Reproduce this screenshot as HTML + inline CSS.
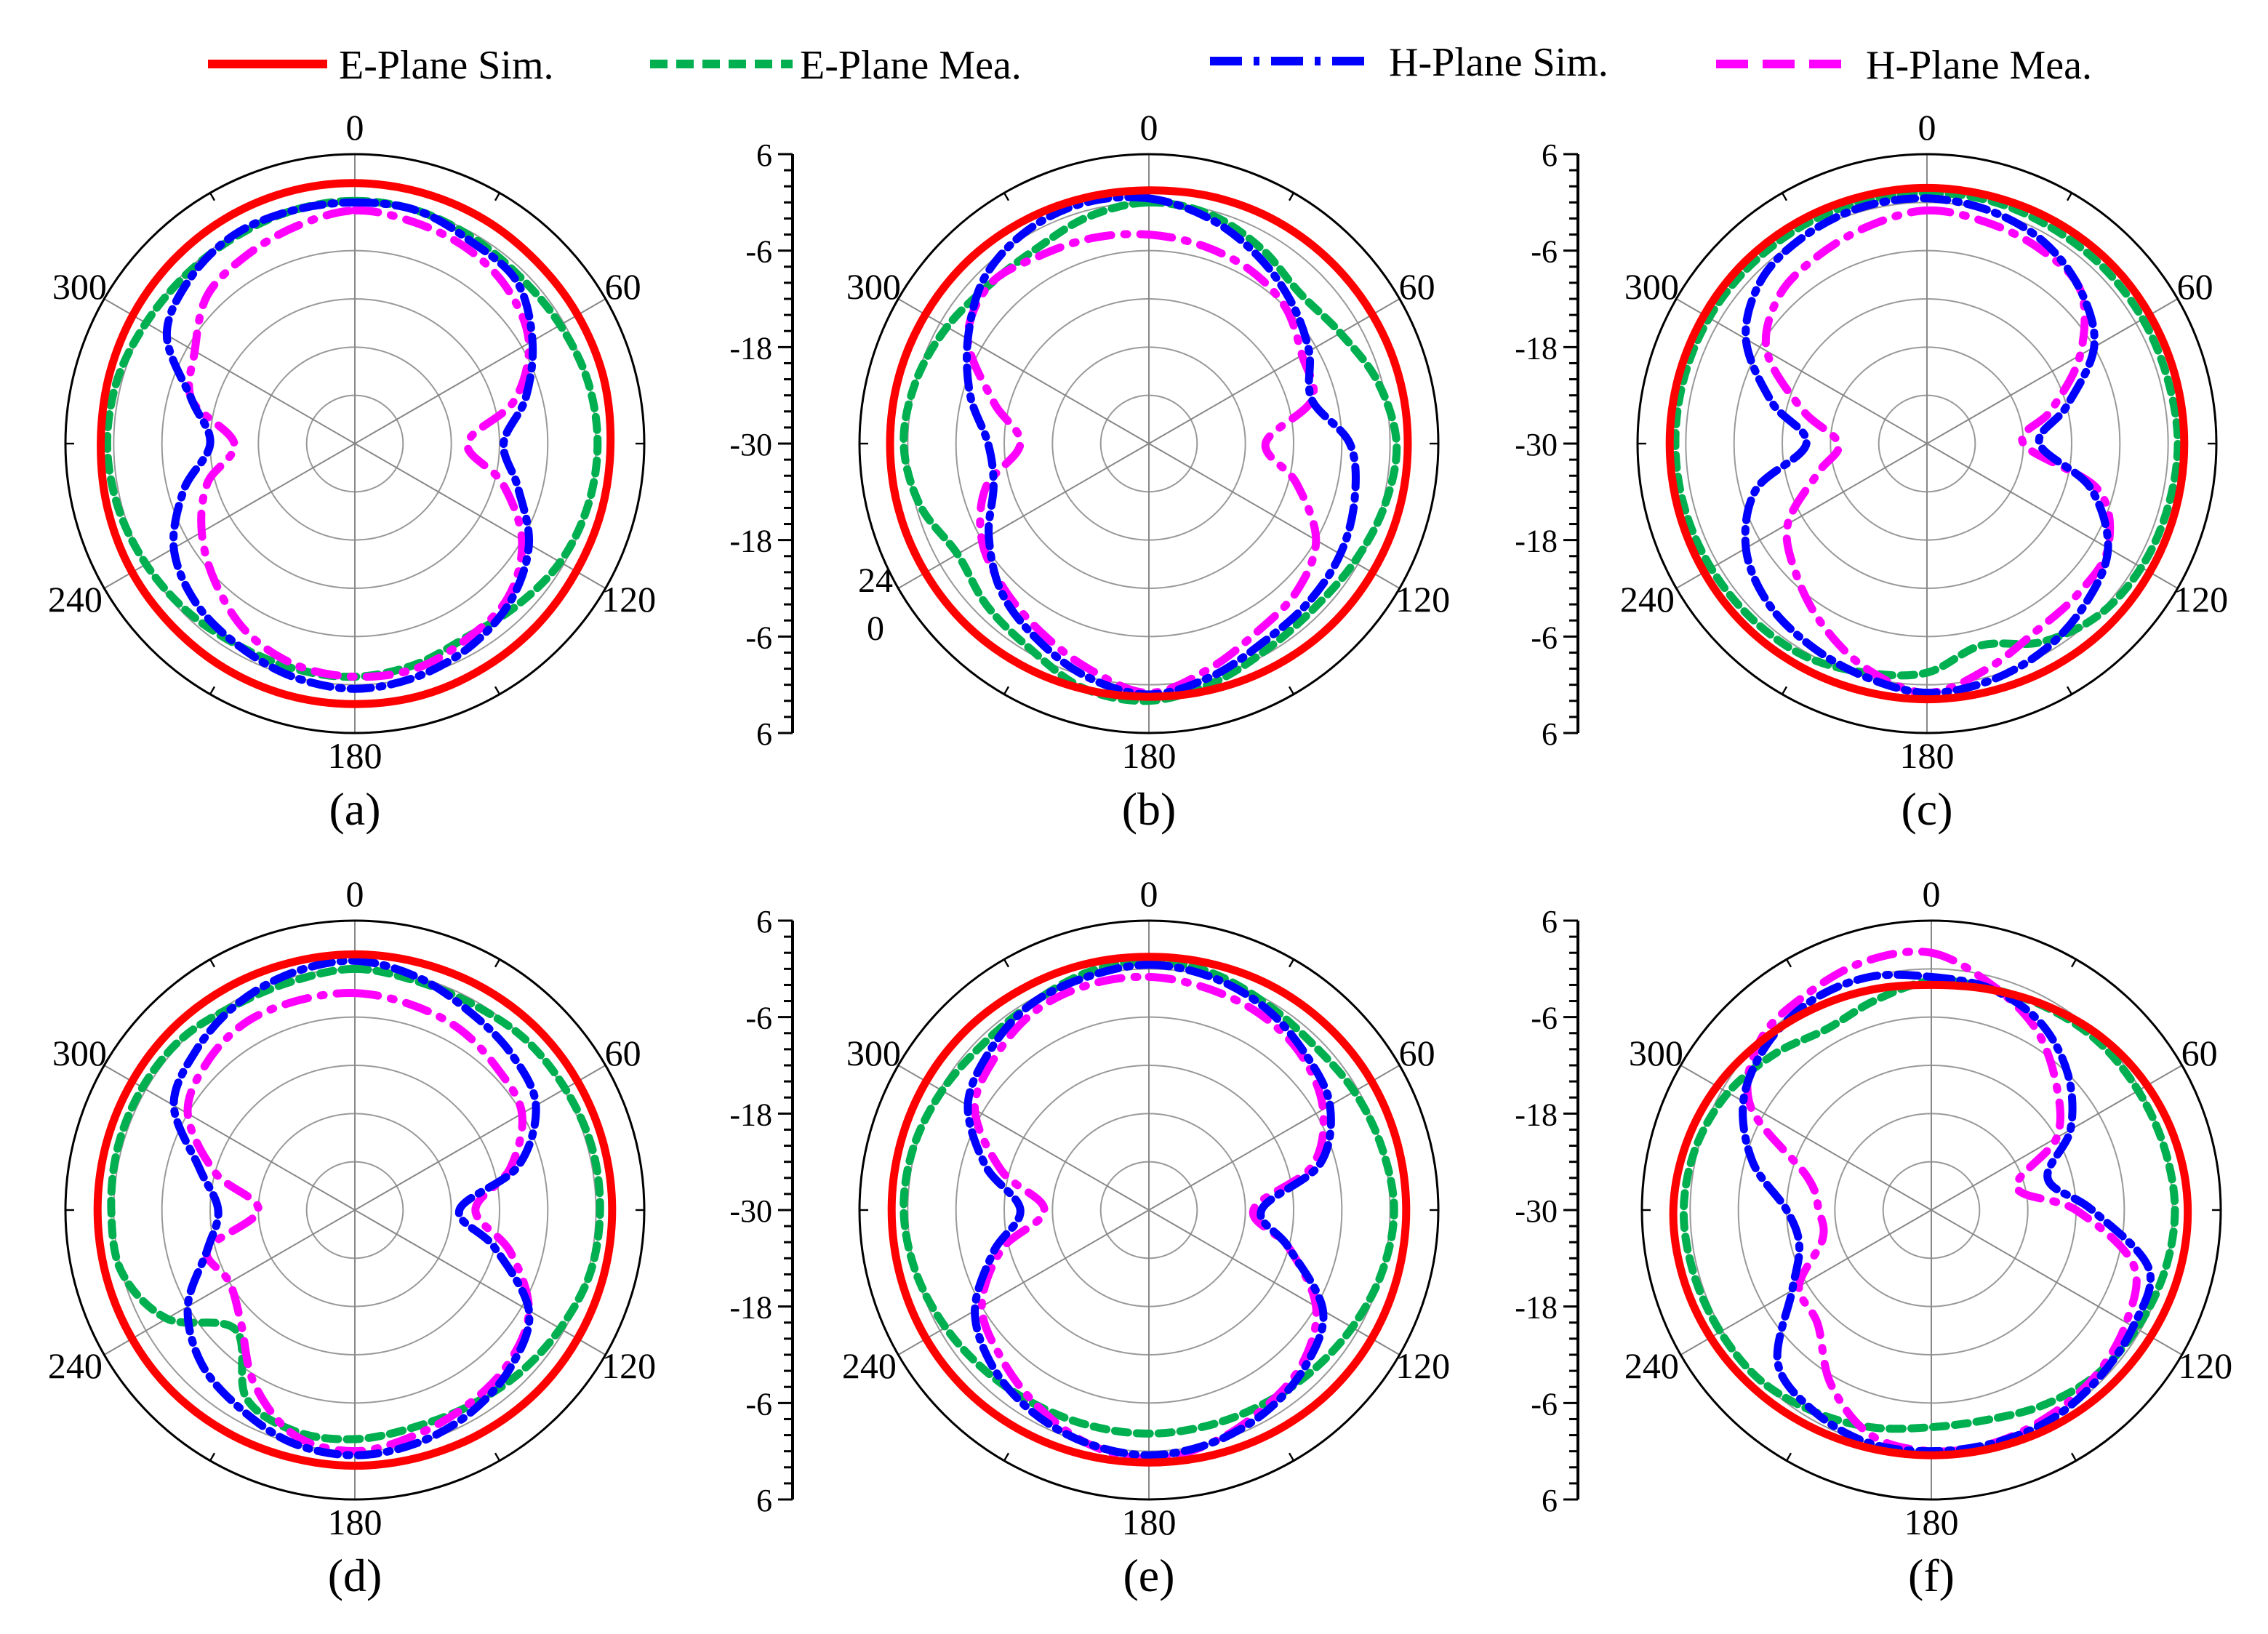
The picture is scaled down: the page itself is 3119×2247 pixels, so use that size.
<!DOCTYPE html>
<html><head><meta charset="utf-8"><style>
html,body{margin:0;padding:0;background:#fff}
svg{display:block}
svg text{font-family:"Liberation Serif","DejaVu Serif",serif !important;fill:#000}
</style></head><body>
<svg id="fig" width="3119" height="2247" viewBox="0 0 1559.5 1123.5" xmlns="http://www.w3.org/2000/svg" font-family="Liberation Serif, serif">
<g>
 <g><line x1="143" y1="44" x2="225" y2="44" stroke="#ff0000" stroke-width="6"/><text x="233" y="54" font-size="28" font-family="Liberation Serif, serif">E-Plane Sim.</text></g>
 <g><line x1="447" y1="44" x2="545" y2="44" stroke="#00b050" stroke-width="6" stroke-dasharray="12,6"/><text x="550" y="54" font-size="28" font-family="Liberation Serif, serif">E-Plane Mea.</text></g>
 <g><line x1="832" y1="42" x2="945" y2="42" stroke="#0000ff" stroke-width="6" stroke-dasharray="22,8,4,8"/><text x="955" y="52" font-size="28" font-family="Liberation Serif, serif">H-Plane Sim.</text></g>
 <g><line x1="1180" y1="44" x2="1275" y2="44" stroke="#ff00ff" stroke-width="6" stroke-dasharray="22,10"/><text x="1283" y="54" font-size="28" font-family="Liberation Serif, serif">H-Plane Mea.</text></g>
</g>
<g id="panels"></g>
</svg>
<script>
// angles every 15 deg, values in dB (-30..6)
const angles=[0,15,30,45,60,75,90,105,120,135,150,165,180,195,210,225,240,255,270,285,300,315,330,345];
const panelLabels=["(a)","(b)","(c)","(d)","(e)","(f)"];
const radialTicks=["6","-6","-18","-30","-18","-6","6"];
const angleTickLabels=["0","60","120","180","240","300"];
// E-plane sim
const eSimA=[2.4,2.3,2.2,2,2,2,1.8,1.8,1.8,2,2.2,2.4,2.4,2.4,2.3,2.1,2,1.8,1.6,1.7,1.9,2.1,2.3,2.4];
const eSimB=[1.5,1.7,1.9,2,2.1,2.2,2.2,2.2,2.1,2,1.8,1.6,1.5,1.6,1.8,2,2.1,2.2,2.2,2.2,2.1,2,1.8,1.6];
const eSimC=[1.8,1.8,1.9,2,2,2,2,2,2,2,1.9,1.8,1.8,1.8,1.9,2,2,2,2,2,2,2,1.9,1.8];
const eSimD=[1.8,1.8,1.9,2,2,2,2,2,2,2,1.9,1.8,1.8,1.8,1.9,2,2,2,2,2,2,2,1.9,1.8];
const eSimE=[1.5,1.6,1.8,1.9,2,2,2,2,2,1.9,1.7,1.5,1.4,1.5,1.7,1.9,2,2,2,2,2,1.9,1.7,1.6];
const eSimF=[-2,-1.6,-0.8,0.2,1,1.6,1.9,1.8,1.5,1.2,0.9,0.6,0.5,0.6,0.9,1.3,1.7,2,2.1,1.6,0.8,-0.2,-1,-1.6];
// E-plane measured
const eMeaA=[0.2,0,-0.5,-0.8,-0.5,0,0.2,0,-0.5,-1.5,-2.2,-1.5,-1,-1,-1,-0.5,0,0.5,0.8,0.6,0,-0.3,-0.3,0];
const eMeaB=[0,-0.5,-2,-3.5,-2.5,-0.5,0.8,0.3,-0.5,-1,-0.5,0.8,2,1.5,-0.5,-1.5,-2.5,-0.5,0.5,0,-1,-2,-2,-0.8];
const eMeaC=[1.2,1.2,1,1,1,1,1.2,1,0.8,0.2,-1.5,-4,-1.5,-0.5,0.5,0.8,1,1.2,1.3,1.3,1.3,1.2,1.2,1.2];
const eMeaD=[0,-0.5,-0.5,0,0.2,0.5,0.5,0.3,-0.5,-1.2,-1.8,-2,-1.5,-1.5,-3,-9,-3,0,0.3,0.5,0.5,0.3,-0.5,-0.5];
const eMeaE=[1,0.5,-0.5,-1,-0.5,0,0.5,0,-0.8,-1.5,-2,-2.2,-2.2,-2.2,-2,-1.5,-0.8,0,0.5,0.3,-0.3,-0.8,-0.5,0.5];
const eMeaF=[-1.5,-1.5,-1,-0.5,-0.3,0,0.3,0,-0.5,-1,-2,-3,-3,-2,-1,0,0.3,0.6,0.8,0.3,-0.8,-2.5,-4,-3];
// H-plane sim
const hSimA=[0,0,-1,-1.5,-4.5,-8,-11.5,-9,-5,-2.5,-1,0,0.5,0,-1,-2,-4,-8,-12,-9,-3,-1,0,0];
const hSimB=[0.5,-1,-3,-5,-7,-9,-5,-3.5,-2.5,-2,-1.5,0,1.2,0,-2,-4,-7,-10,-10,-7,-4,-1,0.5,1];
const hSimC=[0.5,0,-1,-3,-6,-12,-16,-9,-4,-2,-0.5,0.5,1,0,-1,-2,-4,-8,-15,-10,-4,-1,0,0.5];
const hSimD=[1,0,-1.5,-2.5,-4,-9,-17,-12,-5,-2.5,-1,0,0.5,0,-1.5,-3,-6,-11,-13,-10,-4,-2,-0.5,0.5];
const hSimE=[0.5,0,-1,-2.5,-4,-8,-16,-12,-5,-2.5,-1,0,0.5,0,-1,-2.5,-5,-10,-14,-9,-4,-2,-0.5,0];
const hSimF=[-1,-1.5,-3,-6,-10,-15,-10,-2,-1,-0.5,0,0,0,0,-1,-3,-10,-13,-12,-7,-3,-1,0,0];
// H-plane measured
const hMeaA=[-1,-1.5,-2,-3,-5,-9.5,-16,-11,-6,-3,-2,-1,-1,-1.5,-3,-5.5,-8,-11,-15,-9,-7,-4,-3,-2];
const hMeaB=[-4,-4.5,-5,-6,-8,-9,-15.5,-11,-6,-4,-3,-1,1,-1,-3,-4.5,-6,-9,-14,-10,-4,-2,-3,-3.5];
const hMeaC=[-1,-1.5,-2,-3,-8,-14,-18,-8,-4,-3.5,-3,-1,1,-1,-4,-7,-10,-16,-19,-14,-7,-4,-3,-2];
const hMeaD=[-3,-3.5,-4,-5,-6,-10,-15,-10,-5,-3,-2,-1,0,-1,-5,-10,-12,-11,-18,-12,-6,-4,-3,-3];
const hMeaE=[-1,-1.5,-2,-3,-5,-9,-17,-12,-6,-3,-1.5,0,1,0,-2,-4,-6,-11,-17,-11,-5,-3,-1.5,-1];
const hMeaF=[2,-1,-4,-8,-12,-19,-12,-4,-2,-1,-0.5,0,0,-1,-5,-10,-11,-16,-16,-14,-4,0,1,2];

const panels=[
 {cx:244,cy:305,axis:null,e:eSimA,em:eMeaA,h:hSimA,hm:hMeaA},
 {cx:790,cy:305,axis:545,e:eSimB,em:eMeaB,h:hSimB,hm:hMeaB,skip240:true},
 {cx:1325,cy:305,axis:1085,e:eSimC,em:eMeaC,h:hSimC,hm:hMeaC},
 {cx:244,cy:832,axis:null,e:eSimD,em:eMeaD,h:hSimD,hm:hMeaD},
 {cx:790,cy:832,axis:545,e:eSimE,em:eMeaE,h:hSimE,hm:hMeaE},
 {cx:1328,cy:832,axis:1085,e:eSimF,em:eMeaF,h:hSimF,hm:hMeaF}
];
const R=199, NS="http://www.w3.org/2000/svg", FF="Liberation Serif, serif";
function rScale(db){return Math.max(0,(db+30)/36*R);}
function pt(cx,cy,ang,r){const t=ang*Math.PI/180;return [cx+r*Math.sin(t),cy-r*Math.cos(t)];}
function mk(tag,attrs,parent){const el=document.createElementNS(NS,tag);for(const k in attrs)el.setAttribute(k,attrs[k]);if(tag==='text')el.setAttribute('font-family',FF);parent.appendChild(el);return el;}
function curve(cx,cy,vals){
 const P=angles.map((a,i)=>pt(cx,cy,a,rScale(vals[i])));const n=P.length;
 let d=`M${P[0][0].toFixed(1)},${P[0][1].toFixed(1)}`;
 for(let i=0;i<n;i++){const p0=P[(i-1+n)%n],p1=P[i],p2=P[(i+1)%n],p3=P[(i+2)%n];
  const c1=[p1[0]+(p2[0]-p0[0])/6,p1[1]+(p2[1]-p0[1])/6],c2=[p2[0]-(p3[0]-p1[0])/6,p2[1]-(p3[1]-p1[1])/6];
  d+=`C${c1[0].toFixed(1)},${c1[1].toFixed(1)} ${c2[0].toFixed(1)},${c2[1].toFixed(1)} ${p2[0].toFixed(1)},${p2[1].toFixed(1)}`;}
 return d+"Z";}
const root=document.getElementById('panels');
panels.forEach((p,pi)=>{
 const g=mk('g',{},root);
 
 
 for(let k=1;k<=5;k++){const c=mk('circle',{cx:p.cx,cy:p.cy,r:R*k/6,fill:'none',stroke:'#999','stroke-width':1},g);
  
  }
 [0,60,120].forEach(a=>{const a1=pt(p.cx,p.cy,a,R),a2=pt(p.cx,p.cy,a+180,R);
  const l=mk('line',{x1:a1[0],y1:a1[1],x2:a2[0],y2:a2[1],stroke:'#888','stroke-width':1},g);
  
  });
 const oc=mk('circle',{cx:p.cx,cy:p.cy,r:R,fill:'none',stroke:'#000','stroke-width':1.5},g);
 
 
 for(let a=30;a<360;a+=60){const q1=pt(p.cx,p.cy,a,R),q2=pt(p.cx,p.cy,a,R-6);mk('line',{x1:q1[0],y1:q1[1],x2:q2[0],y2:q2[1],stroke:'#000','stroke-width':1.2},g);}
 angleTickLabels.forEach((lab,i)=>{const a=i*60;
  if(a===240&&p.skip240)return;
  const q=pt(p.cx,p.cy,a,R);
  let x=q[0],y=q[1]+9,anc='middle';
  if(a===0){y=p.cy-R-10;}
  if(a===180){y=p.cy+R+24;}
  if(a===60){x=q[0]+12;y=q[1]};
  if(a===120){x=q[0]+16;y=q[1]+16;}
  if(a===240){x=q[0]-20;y=q[1]+16;}
  if(a===300){x=q[0]-17;y=q[1];}
  const t=mk('text',{x:x,y:y,'font-size':25,'text-anchor':anc},g);t.textContent=lab;
  
  });
 const series=[[p.em,'#00b050','9,6','e-plane-mea'],[p.hm,'#ff00ff','16,9,2,9','h-plane-mea'],[p.h,'#0000ff','14,6,2,6','h-plane-sim'],[p.e,'#ff0000','none','e-plane-sim']];
 series.forEach(s=>{const path=mk('path',{d:curve(p.cx,p.cy,s[0]),fill:'none',stroke:s[1],'stroke-width':s[3]==='e-plane-sim'?5.5:5.5,'stroke-dasharray':s[2],'stroke-linecap':'round'},g);
  
  });
 if(p.axis){const ax=mk('g',{},g);
  
  
  mk('line',{x1:p.axis,y1:p.cy-R,x2:p.axis,y2:p.cy+R,stroke:'#000','stroke-width':2},ax);
  for(let k=0;k<=36;k++){const y=p.cy-R+k*R*2/36;mk('line',{x1:p.axis-(k%6===0?10:6),y1:y,x2:p.axis,y2:y,stroke:'#000','stroke-width':1.5},ax);}
  radialTicks.forEach((lab,k)=>{const t=mk('text',{x:p.axis-14,y:p.cy-R+k*R/3+8,'font-size':22,'text-anchor':'end'},ax);t.textContent=lab;});}
 const cap=mk('text',{x:p.cx,y:p.cy+R+63,'font-size':32,'text-anchor':'middle'},g);cap.textContent=panelLabels[pi];
 
 
});
// stray labels in panel (b)
const s1=mk('text',{x:602,y:407,'font-size':24,'text-anchor':'middle'},root);s1.textContent="24";


const s2=mk('text',{x:602,y:440,'font-size':24,'text-anchor':'middle'},root);s2.textContent="0";


</script>
</body></html>
